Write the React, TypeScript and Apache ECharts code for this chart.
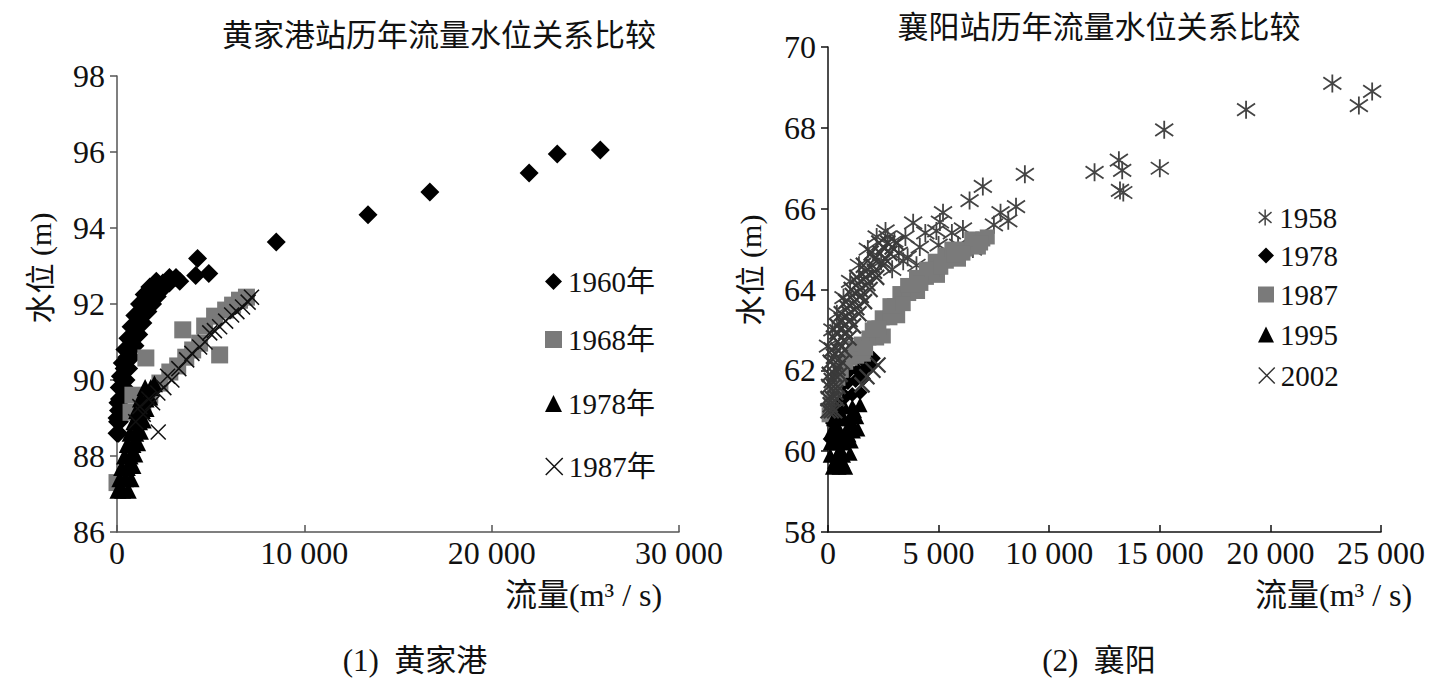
import React, { useEffect, useRef } from "react";
import * as echarts from "echarts";

// ---------- 黄家港 (left) ----------
const hjgTitle = "黄家港站历年流量水位关系比较";
const hjgXTicks = [0, 10000, 20000, 30000];
const hjgYTicks = [86, 88, 90, 92, 94, 96, 98];
const hjg1960: [number, number][] = [
  [0, 88.6], [80, 88.6], [30, 88.9], [130, 88.9], [80, 89.2], [200, 89.2], [130, 89.5], [300, 89.5],
  [200, 89.8], [400, 89.8], [280, 90.0], [480, 90.0], [380, 90.3], [620, 90.3], [520, 90.6],
  [780, 90.6], [700, 90.9], [960, 90.9], [880, 91.2], [1160, 91.2], [1080, 91.5], [1380, 91.5],
  [1330, 91.8], [1650, 91.8], [1550, 92.0], [1900, 92.0], [1800, 92.2], [2150, 92.2],
  [2100, 92.4], [2450, 92.4], [2450, 92.55], [2800, 92.55], [2800, 92.7], [3150, 92.7],
  [0, 89.0], [50, 89.4], [120, 89.8], [180, 90.1], [280, 90.45], [420, 90.8], [580, 91.1],
  [750, 91.4], [950, 91.7], [1200, 92.0], [1450, 92.25], [1750, 92.45], [2100, 92.6],
  [3350, 92.6], [4300, 93.2], [4200, 92.75], [4900, 92.8], [8500, 93.63], [13400, 94.35],
  [16700, 94.95], [22000, 95.45], [23500, 95.95], [25800, 96.05],
];
const hjg1968: [number, number][] = [
  [0, 87.3], [750, 89.15], [850, 89.6], [1380, 89.34], [1540, 90.58], [1750, 89.6],
  [2290, 89.92], [2820, 90.21], [3240, 90.37], [3670, 90.6], [4040, 90.79], [4410, 90.97],
  [3510, 91.32], [5480, 90.66], [4680, 91.42], [5210, 91.68], [5800, 91.84], [6170, 91.97],
  [6540, 92.1], [6910, 92.18],
];
const hjg1978: [number, number][] = [
  [50, 87.1], [300, 87.1], [600, 87.1], [150, 87.4], [450, 87.4], [750, 87.4], [250, 87.7],
  [550, 87.7], [850, 87.75], [400, 88.0], [700, 88.0], [950, 88.05], [550, 88.3], [850, 88.3],
  [1100, 88.35], [700, 88.6], [1000, 88.6], [1250, 88.65], [900, 88.9], [1200, 88.9],
  [1400, 88.95], [1050, 89.2], [1350, 89.2], [1550, 89.25], [1250, 89.5], [1550, 89.5],
  [1750, 89.55], [1500, 89.8], [1800, 89.8], [2000, 89.9],
];
const hjg1987: [number, number][] = [
  [2200, 88.63], [1000, 88.9], [1220, 89.3], [1400, 89.1], [1700, 89.5], [1900, 89.4],
  [2180, 89.66], [2500, 89.8], [2700, 90.1], [2930, 90.0], [3300, 90.3], [3720, 90.53],
  [4000, 90.7], [4410, 90.87], [4700, 91.0], [4950, 91.24], [5200, 91.3], [5480, 91.4],
  [5800, 91.55], [6120, 91.71], [6400, 91.8], [6700, 91.92], [7000, 92.05], [7180, 92.18],
];

// ---------- 襄阳 (right) ----------
const xyTitle = "襄阳站历年流量水位关系比较";
const xyXTicks = [0, 5000, 10000, 15000, 20000, 25000];
const xyYTicks = [58, 60, 62, 64, 66, 68, 70];
const xy1958: [number, number][] = [
  [22800, 69.1], [24600, 68.9], [24000, 68.55], [18900, 68.45], [15200, 67.95], [15000, 67.0],
  [13150, 67.2], [13300, 66.95], [13200, 66.45], [13350, 66.4], [12050, 66.9], [8900, 66.85],
  [8500, 66.05], [8150, 65.7], [7800, 65.9], [7000, 66.55], [6400, 66.2], [5200, 65.9],
  [6100, 65.5], [6550, 65.0], [4900, 65.45], [4150, 65.05], [3850, 65.65], [4400, 65.4],
  [3500, 65.3], [3000, 65.2], [2700, 65.3], [3200, 64.9], [2400, 64.7], [3600, 64.8],
  [4000, 64.6], [5600, 65.4], [5000, 65.1], [7500, 65.6], [5880, 65.1], [5060, 65.67],
  [0, 62.6], [200, 63.0], [400, 63.4], [700, 63.8], [1000, 64.2], [1400, 64.6], [1800, 65.0],
  [2200, 65.3], [2600, 65.45], [3400, 64.7], [2900, 64.5],
];
const xy1978: [number, number][] = [
  [100, 60.3], [200, 60.7], [300, 61.0], [500, 61.3], [800, 61.35], [1100, 61.4], [1450, 61.45],
  [600, 61.6], [900, 61.7], [1250, 61.75], [1600, 61.8], [1000, 62.0], [1350, 62.0],
  [1700, 62.05], [1950, 62.1], [1500, 62.3], [1800, 62.3], [2050, 62.3],
];
const xy1987: [number, number][] = [
  [50, 60.9], [150, 61.2], [300, 61.5], [450, 61.8], [600, 62.0], [800, 62.2], [1000, 62.3],
  [1300, 62.35], [1600, 62.4], [1200, 62.55], [1500, 62.65], [1850, 62.8], [2200, 62.8],
  [2500, 62.85], [2100, 63.05], [2450, 63.3], [2800, 63.3], [3150, 63.35], [2800, 63.6],
  [3250, 63.9], [3650, 63.9], [4050, 63.95], [3600, 64.1], [4000, 64.3], [4450, 64.3],
  [4950, 64.35], [4450, 64.5], [4850, 64.7], [5350, 64.7], [5900, 64.75], [5300, 64.85],
  [5600, 65.0], [6200, 65.0], [6800, 65.05], [6500, 65.25], [7000, 65.25], [7200, 65.3],
  [6900, 65.15], [1700, 62.55], [2000, 63.0], [2300, 63.05], [3000, 63.6], [3400, 63.65],
  [3850, 64.1], [4200, 64.15], [4700, 64.5], [5100, 64.55], [5700, 64.85], [6100, 64.9],
];
const xy1995: [number, number][] = [
  [200, 59.6], [500, 59.6], [800, 59.6], [100, 59.9], [400, 59.9], [700, 59.9], [1000, 59.95],
  [100, 60.2], [400, 60.2], [700, 60.2], [1050, 60.25], [150, 60.5], [450, 60.5], [800, 60.5],
  [1150, 60.5], [1350, 60.55], [250, 60.8], [600, 60.8], [950, 60.8], [1300, 60.85],
  [400, 61.1], [750, 61.1], [1100, 61.1], [1450, 61.15], [300, 59.75], [650, 59.75],
  [550, 60.05], [250, 60.35], [600, 60.35], [950, 60.4], [400, 60.65], [1100, 60.7],
  [600, 60.95], [1200, 61.0],
];
const xy2002: [number, number][] = [
  [0, 61.0], [150, 61.0], [300, 61.0], [0, 61.3], [200, 61.3], [400, 61.3], [30, 61.6],
  [250, 61.6], [450, 61.6], [60, 61.9], [300, 61.9], [550, 61.9], [100, 62.2], [350, 62.2],
  [650, 62.2], [150, 62.5], [450, 62.5], [750, 62.5], [250, 62.8], [600, 62.8], [950, 62.8],
  [400, 63.1], [750, 63.1], [1150, 63.1], [600, 63.4], [950, 63.4], [1400, 63.4], [800, 63.7],
  [1200, 63.7], [1650, 63.7], [1050, 64.0], [1450, 64.0], [1900, 64.0], [1300, 64.3],
  [1700, 64.3], [2200, 64.3], [1600, 64.6], [2000, 64.6], [2500, 64.6], [1950, 64.9],
  [2350, 64.9], [2800, 64.9], [2300, 65.15], [2700, 65.15], [3100, 65.15],
  [100, 61.15], [350, 61.45], [150, 61.75], [450, 62.05], [250, 62.35], [550, 62.65],
  [400, 62.95], [800, 62.95], [600, 63.25], [1000, 63.25], [850, 63.55], [1300, 63.55],
  [1100, 63.85], [1500, 63.85], [1350, 64.15], [1800, 64.15], [1700, 64.45], [2100, 64.45],
  [2100, 64.75], [2600, 64.75], [2500, 65.05], [2900, 65.05],
  [1760, 61.84], [2030, 62.0], [2260, 62.13], [1540, 61.64],
];

const SERIF = '"Liberation Serif", "Times New Roman", "Noto Sans CJK SC", serif';
const CJK = '"Noto Sans CJK SC", sans-serif';
const CROSS = "path://M0,0L10,10M10,0L0,10";
const STAR = "path://M5,0L5,10M1,1.6L9,8.4M9,1.6L1,8.4";

const fmtNum = (v: number) => String(v).replace(/\B(?=(\d{3})+(?!\d))/g, " ");

function App() {
  const ref = useRef<HTMLDivElement>(null);
  useEffect(() => {
    document.body.style.margin = "0";
    const chart = echarts.init(ref.current!, undefined, { renderer: "svg" });

    const filled = (name: string, data: [number, number][], symbol: string, size: number, color: string, gi: number) => ({
      type: "scatter", name, data, symbol, symbolSize: size, xAxisIndex: gi, yAxisIndex: gi,
      itemStyle: { color, opacity: 1 }, silent: true,
    });
    const stroked = (name: string, data: [number, number][], symbol: string, size: number, color: string, gi: number, w: number) => ({
      type: "scatter", name, data, symbol, symbolSize: size, xAxisIndex: gi, yAxisIndex: gi,
      itemStyle: { color: "transparent", borderColor: color, borderWidth: w, opacity: 1 }, silent: true,
    });

    const legendItem = (name: string, icon: string, style: any, left: number, top: number, iw: number, fs: number) => ({
      left, top, orient: "vertical", itemWidth: iw, itemHeight: iw, itemGap: 0,
      selectedMode: false,
      textStyle: { fontFamily: SERIF, fontSize: fs, color: "#111", padding: [0, 0, 0, 1] },
      data: [{ name, icon, itemStyle: style }],
    });

    const xLab = { color: "#111", fontFamily: SERIF, fontSize: 32, margin: 5, formatter: fmtNum };
    const yLab = { color: "#111", fontFamily: SERIF, fontSize: 32, margin: 12 };

    const option: any = {
      animation: false,
      backgroundColor: "#fff",
      title: [
        { text: hjgTitle, left: 434, top: 12, textAlign: "center", textStyle: { fontFamily: CJK, fontSize: 31, fontWeight: "normal", color: "#111" } },
        { text: xyTitle, left: 1094, top: 4, textAlign: "center", textStyle: { fontFamily: CJK, fontSize: 31, fontWeight: "normal", color: "#111" } },
      ],
      grid: [
        { left: 117, top: 76, width: 562, height: 456 },
        { left: 828, top: 47, width: 553, height: 485 },
      ],
      xAxis: [
        {
          gridIndex: 0, type: "value", min: hjgXTicks[0], max: hjgXTicks[hjgXTicks.length - 1], interval: 10000,
          axisLine: { lineStyle: { color: "#555", width: 1.5 } }, splitLine: { show: false },
          axisTick: { show: true, inside: true, length: 7, lineStyle: { color: "#555", width: 1.5 } },
          axisLabel: xLab,
        },
        {
          gridIndex: 1, type: "value", min: xyXTicks[0], max: xyXTicks[xyXTicks.length - 1], interval: 5000,
          axisLine: { lineStyle: { color: "#111", width: 1.5 } }, splitLine: { show: false },
          axisTick: { show: true, inside: true, length: 7, lineStyle: { color: "#111", width: 1.5 } },
          axisLabel: xLab,
        },
      ],
      yAxis: [
        {
          gridIndex: 0, type: "value", min: hjgYTicks[0], max: hjgYTicks[hjgYTicks.length - 1], interval: 2,
          axisLine: { lineStyle: { color: "#555", width: 1.5 } }, splitLine: { show: false },
          axisTick: { show: true, inside: false, length: 7, lineStyle: { color: "#555", width: 1.5 } },
          axisLabel: yLab,
        },
        {
          gridIndex: 1, type: "value", min: xyYTicks[0], max: xyYTicks[xyYTicks.length - 1], interval: 2,
          axisLine: { lineStyle: { color: "#111", width: 1.5 } }, splitLine: { show: false },
          axisTick: { show: true, inside: false, length: 7, lineStyle: { color: "#111", width: 1.5 } },
          axisLabel: yLab,
        },
      ],
      legend: [
        legendItem("1960年", "diamond", { color: "#000" }, 540, 262, 17, 29),
        legendItem("1968年", "rect", { color: "#7a7a7a" }, 540, 320, 17, 29),
        legendItem("1978年", "triangle", { color: "#000" }, 540, 384, 17, 29),
        legendItem("1987年", CROSS, { color: "transparent", borderColor: "#111", borderWidth: 1.5 }, 540, 447, 17, 29),
        legendItem("1958", STAR, { color: "transparent", borderColor: "#444", borderWidth: 1.5 }, 1253, 198, 16, 29),
        legendItem("1978", "diamond", { color: "#000" }, 1253, 236, 16, 29),
        legendItem("1987", "rect", { color: "#7a7a7a" }, 1253, 275, 16, 29),
        legendItem("1995", "triangle", { color: "#000" }, 1253, 315, 16, 29),
        legendItem("2002", CROSS, { color: "transparent", borderColor: "#333", borderWidth: 1.5 }, 1253, 356, 16, 29),
      ],
      graphic: [
        { type: "text", left: 505, top: 579, style: { text: "流量(m³ / s)", font: `32px ${SERIF}`, fill: "#111" } },
        { type: "text", left: 1255, top: 579, style: { text: "流量(m³ / s)", font: `32px ${SERIF}`, fill: "#111" } },
        { type: "text", x: 40, y: 268, rotation: Math.PI / 2, style: { text: "水位 (m)", font: `30px ${SERIF}`, fill: "#111", align: "center", verticalAlign: "middle" } },
        { type: "text", x: 750, y: 270, rotation: Math.PI / 2, style: { text: "水位 (m)", font: `30px ${SERIF}`, fill: "#111", align: "center", verticalAlign: "middle" } },
        { type: "text", x: 415, y: 660, style: { text: "(1)  黄家港", font: `31px ${SERIF}`, fill: "#111", align: "center", verticalAlign: "middle" } },
        { type: "text", x: 1099, y: 660, style: { text: "(2)  襄阳", font: `31px ${SERIF}`, fill: "#111", align: "center", verticalAlign: "middle" } },
      ],
      series: [
        filled("1960年", hjg1960, "diamond", 19, "#000", 0),
        filled("1968年", hjg1968, "rect", 17, "#7a7a7a", 0),
        filled("1978年", hjg1978, "triangle", 17, "#000", 0),
        stroked("1987年", hjg1987, CROSS, 15, "#111", 0, 1.5),
        stroked("1958", xy1958, STAR, 18, "#444", 1, 1.8),
        filled("1978", xy1978, "diamond", 15, "#000", 1),
        filled("1987", xy1987, "rect", 15, "#7a7a7a", 1),
        filled("1995", xy1995, "triangle", 15, "#000", 1),
        stroked("2002", xy2002, CROSS, 15, "#3a3a3a", 1, 2.2),
      ],
    };
    chart.setOption(option);
    return () => chart.dispose();
  }, []);
  return <div ref={ref} style={{ width: 1448, height: 693 }} />;
}

export default App;
